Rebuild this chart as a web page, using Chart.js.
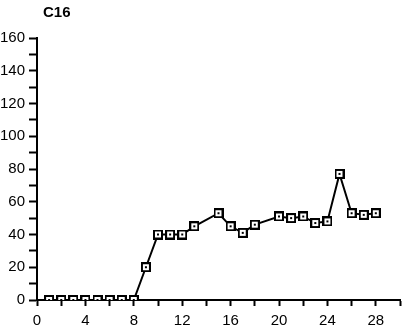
<!DOCTYPE html>
<html>
<head>
<meta charset="utf-8">
<script src="https://cdn.jsdelivr.net/npm/chart.js@4"></script>
<style>
  html, body { margin: 0; padding: 0; background: #fff; }
  #wrap { position: relative; width: 413px; height: 330px; }
</style>
</head>
<body>
<div id="wrap"><canvas id="chart"></canvas></div>
<script>
// C16 readings by day (days 14 and 19 have no reading)
const days = [1, 2, 3, 4, 5, 6, 7, 8, 9, 10, 11, 12, 13, 15, 16, 17, 18, 20, 21, 22, 23, 24, 25, 26, 27, 28];
const c16 = [0, 0, 0, 0, 0, 0, 0, 0, 20, 40, 40, 40, 45, 53, 45, 41, 46, 51, 50, 51, 47, 48, 77, 53, 52, 53];
const xTickLabels = [0, 4, 8, 12, 16, 20, 24, 28];
const yTickLabels = [0, 20, 40, 60, 80, 100, 120, 140, 160];

// open square marker with a dot in the middle
function squareMarker() {
  const c = document.createElement('canvas');
  c.width = 10; c.height = 10;
  const g = c.getContext('2d');
  g.fillStyle = '#fff';
  g.fillRect(0, 0, 10, 10);
  g.strokeStyle = '#000';
  g.lineWidth = 2;
  g.strokeRect(1, 1, 8, 8);
  g.fillStyle = '#000';
  g.fillRect(4, 4, 2, 2);
  return c;
}

const cornerTitle = {
  id: 'cornerTitle',
  afterDraw(chart) {
    const ctx = chart.ctx;
    ctx.save();
    ctx.font = 'bold 15px "Liberation Sans", Arial, sans-serif';
    ctx.fillStyle = '#000';
    ctx.textBaseline = 'middle';
    ctx.fillText('C16', chart.chartArea.left + 6, 13);
    ctx.restore();
  }
};

const tickFont = { family: '"Liberation Sans", Arial, sans-serif', size: 15 };

new Chart(document.getElementById('chart'), {
  type: 'line',
  data: {
    datasets: [{
      label: 'C16',
      data: days.map((d, i) => ({ x: d, y: c16[i] })),
      borderColor: '#000',
      borderWidth: 2,
      pointStyle: squareMarker(),
      tension: 0
    }]
  },
  options: {
    animation: false,
    responsive: true,
    maintainAspectRatio: false,
    layout: { padding: { top: 38, right: 13, left: 0, bottom: 0 } },
    plugins: {
      legend: { display: false },
      tooltip: { enabled: false }
    },
    scales: {
      x: {
        type: 'linear',
        min: 0,
        max: 30,
        afterFit: s => { s.height = 30; },
        grid: { drawOnChartArea: false, drawTicks: true, tickLength: 6, tickWidth: 2, color: '#000' },
        border: { display: true, color: '#000', width: 2 },
        ticks: {
          stepSize: 2,
          autoSkip: false,
          maxRotation: 0,
          padding: 6,
          color: '#000',
          font: tickFont,
          callback: v => xTickLabels.includes(v) ? String(v) : ''
        }
      },
      y: {
        min: 0,
        max: 160,
        afterFit: s => { s.width = 37; },
        grid: { drawOnChartArea: false, drawTicks: true, tickLength: 8, tickWidth: 2, color: '#000' },
        border: { display: true, color: '#000', width: 2 },
        ticks: {
          stepSize: 10,
          autoSkip: false,
          padding: 4,
          color: '#000',
          font: tickFont,
          callback: v => yTickLabels.includes(v) ? String(v) : ''
        }
      }
    }
  },
  plugins: [cornerTitle]
});
</script>
</body>
</html>
